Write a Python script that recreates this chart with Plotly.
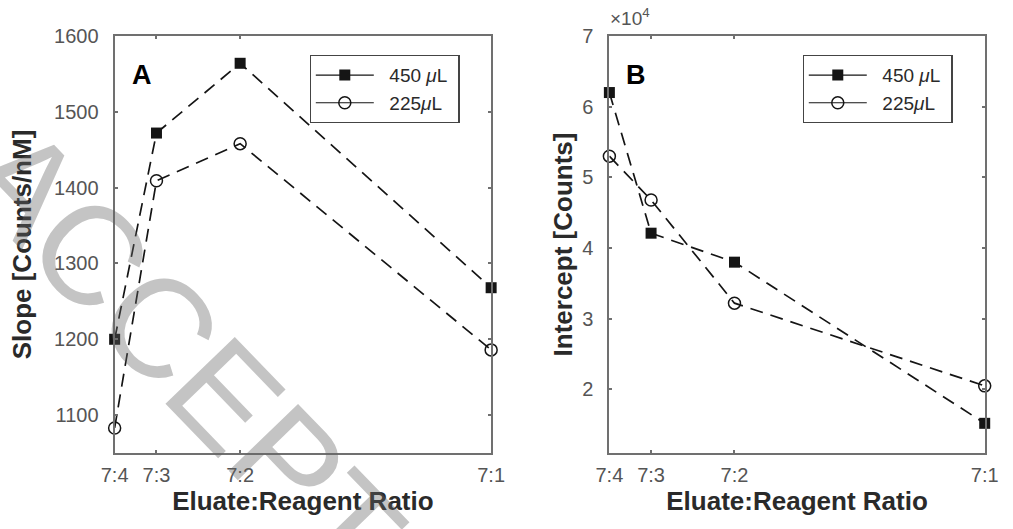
import math
import plotly.graph_objects as go

# Eluate:Reagent mixing ratios (eluate fixed at 7 parts)
eluate_parts = 7
reagent_parts = [4, 3, 2, 1]
ratio_labels = ["7:4", "7:3", "7:2", "7:1"]

# Calibration slope (Counts/nM) for two eluate volumes
slope_450 = [1200, 1472, 1564, 1268]
slope_225 = [1083, 1409, 1458, 1186]

# Calibration intercept (Counts)
intercept_450 = [62000, 42100, 38000, 15200]
intercept_225 = [53000, 46800, 32200, 20500]

series_names = ["\u00a0\u00a0450 <i>μ</i>L\u00a0", "\u00a0\u00a0225<i>μ</i>L\u00a0"]

x_vals = [eluate_parts / r for r in reagent_parts]

W, H = 1013, 529
FONT = "Liberation Sans, Arial, Helvetica, sans-serif"
AXIS_GRAY = "#707070"
TICK_COLOR = "#555555"
TITLE_COLOR = "#2a2a2a"
LINE_COLOR = "#151515"

square = dict(symbol="square", size=11, color=LINE_COLOR, line=dict(width=0))
circle = dict(symbol="circle-open", size=12, color=LINE_COLOR, line=dict(width=1.5))

fig = go.Figure()


def add_panel(xa, ya, leg, y450, y225):
    for y, mk in ((y450, square), (y225, circle)):
        fig.add_trace(go.Scatter(
            x=x_vals, y=y, mode="lines+markers", xaxis=xa, yaxis=ya,
            line=dict(color=LINE_COLOR, width=1.7, dash="13px,8px"),
            marker=mk, cliponaxis=False, showlegend=False, hoverinfo="x+y",
        ))
    # solid-line keys for the legend box
    for name, mk in zip(series_names, (square, circle)):
        fig.add_trace(go.Scatter(
            x=[None], y=[None], mode="lines+markers", xaxis=xa, yaxis=ya,
            line=dict(color=LINE_COLOR, width=1.2), marker=mk,
            name=name, legend=leg,
        ))


add_panel("x", "y", "legend", slope_450, slope_225)
add_panel("x2", "y2", "legend2", intercept_450, intercept_225)

axis_common = dict(
    showline=True, linecolor=AXIS_GRAY, linewidth=2.2, mirror="ticks",
    ticks="inside", ticklen=3, tickwidth=1.5, tickcolor=AXIS_GRAY,
    showgrid=False, zeroline=False,
    tickfont=dict(family=FONT, size=20, color=TICK_COLOR),
)
title_font = dict(family=FONT, size=26, color=TITLE_COLOR, weight="bold")

xaxis_common = dict(
    axis_common, range=[x_vals[0], x_vals[-1]],
    tickmode="array", tickvals=x_vals, ticktext=ratio_labels,
    ticklabelstandoff=3,
    title=dict(text="Eluate:Reagent Ratio", font=title_font, standoff=7),
)

legend_common = dict(
    y=1 - (55 - 36) / 417, xanchor="left", yanchor="top",
    bordercolor="#444444", borderwidth=1.2, bgcolor="white",
    font=dict(family=FONT, size=19, color=TITLE_COLOR),
    itemwidth=58, tracegroupgap=0,
)

fig.update_layout(
    width=W, height=H,
    margin=dict(l=0, r=0, t=36, b=76),
    paper_bgcolor="white", plot_bgcolor="white",
    xaxis=dict(xaxis_common, domain=[103.5 / W, 490.7 / W], anchor="y"),
    xaxis2=dict(xaxis_common, domain=[612.3 / W, 998.3 / W], anchor="y2"),
    yaxis=dict(
        axis_common, anchor="x", range=[1050, 1600],
        tickmode="array", tickvals=[1100, 1200, 1300, 1400, 1500, 1600],
        ticklabelstandoff=10,
        title=dict(text="Slope [Counts/nM]", font=title_font, standoff=15),
    ),
    yaxis2=dict(
        axis_common, anchor="x2", range=[11000, 70000],
        tickmode="array", tickvals=[20000, 30000, 40000, 50000, 60000, 70000],
        ticktext=["2", "3", "4", "5", "6", "7"],
        ticklabelstandoff=10,
        title=dict(text="Intercept [Counts]", font=title_font, standoff=2),
    ),
    legend=dict(legend_common, x=304 / W),
    legend2=dict(legend_common, x=811 / W),
    showlegend=True,
)

# panel letters
for letter, px in (("A", 132), ("B", 640)):
    fig.add_annotation(
        x=px / W, y=1 - (75 - 36) / 417, xref="paper", yref="paper",
        text=f"<b>{letter}</b>", showarrow=False,
        font=dict(family=FONT, size=27, color="black"),
        xanchor="center", yanchor="middle",
    )

# exponent label for the intercept axis
fig.add_annotation(
    x=611 / W, y=1, xref="paper", yref="paper", yshift=5,
    text="×10<sup>4</sup>", showarrow=False, xanchor="left", yanchor="bottom",
    font=dict(family=FONT, size=19, color=TICK_COLOR),
)

# diagonal manuscript watermark, laid out glyph by glyph along a slanted baseline
wm_text = "ACCEPTED MANUSCRIPT"
wm_size = 140
wm_angle = 46
advance = {"A": .667, "C": .722, "E": .667, "P": .667, "T": .611, "D": .722,
           " ": .278, "M": .833, "N": .722, "U": .722, "S": .667, "R": .722,
           "I": .278}
ux, uy = math.cos(math.radians(wm_angle)), math.sin(math.radians(wm_angle))
start_x, start_y = -21.0, 149.5
pos = 0.0
for ch in wm_text:
    w = advance[ch] * wm_size
    cx = start_x + (pos + w / 2) * ux
    cy = start_y + (pos + w / 2) * uy
    pos += w
    if ch == " ":
        continue
    fig.add_annotation(
        x=cx / W, y=1 - (cy - 36) / 417, xref="paper", yref="paper",
        text=ch, showarrow=False, textangle=wm_angle,
        xanchor="center", yanchor="middle",
        font=dict(family=FONT, size=wm_size, color="rgba(100,100,100,0.38)"),
    )

fig.write_html("out.html")
